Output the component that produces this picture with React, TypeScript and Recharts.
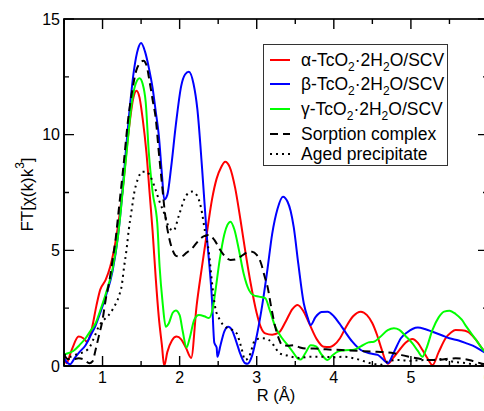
import React from 'react';
import { LineChart, Line, XAxis, YAxis, Legend } from 'recharts';

const xTicks = [0.5, 1, 1.5, 2, 2.5, 3, 3.5, 4, 4.5, 5, 5.5, 6];
const xLabelled = [1, 2, 3, 4, 5, 6];
const yTicks = [0, 2.5, 5, 7.5, 10, 12.5, 15];
const yLabelled = [0, 5, 10, 15];

const alphaPts = [[0.5,0.4],[0.53,0.12],[0.6,0.7],[0.69,1.27],[0.75,1.2],[0.8,1.05],[0.86,1.6],[0.92,2.6],[0.97,3.3],[1.04,3.72],[1.1,4.3],[1.18,5.6],[1.26,7.6],[1.34,10.2],[1.4,11.6],[1.44,11.9],[1.48,11.6],[1.52,10.7],[1.57,9.2],[1.61,7.5],[1.65,5.8],[1.69,3.8],[1.73,2.1],[1.77,0.9],[1.8,0.0],[1.84,0.6],[1.9,1.1],[1.96,1.27],[2.02,1.15],[2.08,0.8],[2.15,0.35],[2.22,2.6],[2.29,4.3],[2.36,5.9],[2.42,7.2],[2.48,8.1],[2.54,8.6],[2.59,8.83],[2.65,8.6],[2.72,7.7],[2.79,6.3],[2.85,5.0],[2.92,3.6],[3.0,2.28],[3.05,1.7],[3.11,1.41],[3.2,1.35],[3.29,1.45],[3.38,1.95],[3.46,2.45],[3.53,2.64],[3.6,2.4],[3.66,2.0],[3.7,1.7],[3.78,1.15],[3.87,0.83],[3.95,0.82],[4.0,0.9],[4.08,1.2],[4.16,1.7],[4.25,2.15],[4.35,2.35],[4.43,2.2],[4.5,1.85],[4.56,1.35],[4.61,0.83],[4.7,0.1],[4.77,0.35],[4.85,0.69],[4.93,1.0],[5.02,1.17],[5.09,1.0],[5.15,0.69],[5.22,0.3],[5.28,0.04],[5.36,0.6],[5.45,1.2],[5.52,1.45],[5.58,1.56],[5.66,1.55],[5.74,1.48],[5.84,1.15],[5.94,0.69],[6.0,0.5]];

const betaPts = [[0.5,0.35],[0.54,0.15],[0.58,0.08],[0.64,0.35],[0.7,0.6],[0.78,0.9],[0.85,1.35],[0.91,1.75],[0.97,2.3],[1.04,3.0],[1.13,4.1],[1.2,5.6],[1.26,7.6],[1.3,9.2],[1.34,10.7],[1.41,12.84],[1.46,13.7],[1.5,13.96],[1.55,13.6],[1.6,12.9],[1.65,12.0],[1.69,11.0],[1.73,9.96],[1.77,8.3],[1.8,7.2],[1.84,7.4],[1.89,8.6],[1.95,10.4],[2.02,12.1],[2.07,12.6],[2.12,12.72],[2.18,12.2],[2.23,11.1],[2.29,8.6],[2.35,5.74],[2.42,2.85],[2.45,1.0],[2.48,0.8],[2.49,0.4],[2.53,0.9],[2.58,1.5],[2.63,1.7],[2.68,1.55],[2.73,1.1],[2.79,0.5],[2.85,0.12],[2.88,0.1],[2.94,0.45],[3.0,1.3],[3.07,2.6],[3.14,4.2],[3.2,5.7],[3.27,6.8],[3.34,7.32],[3.4,7.1],[3.44,6.7],[3.48,6.0],[3.54,4.4],[3.61,2.71],[3.66,2.1],[3.7,1.77],[3.76,2.1],[3.84,2.33],[3.92,2.35],[4.0,2.15],[4.07,1.85],[4.13,1.56],[4.24,1.05],[4.35,0.69],[4.46,0.55],[4.57,0.48],[4.65,0.25],[4.7,0.12],[4.78,0.6],[4.87,1.2],[4.95,1.45],[5.02,1.6],[5.09,1.66],[5.18,1.6],[5.28,1.48],[5.4,1.33],[5.5,1.2],[5.62,1.1],[5.72,0.98],[5.84,0.82],[5.94,0.62],[6.0,0.5]];

const gammaPts = [[0.5,0.5],[0.55,0.55],[0.62,0.65],[0.7,0.9],[0.78,1.2],[0.85,1.55],[0.91,1.85],[0.97,2.4],[1.04,3.1],[1.13,4.2],[1.2,5.6],[1.26,7.5],[1.32,9.5],[1.38,11.4],[1.43,12.2],[1.48,12.44],[1.52,12.2],[1.56,11.4],[1.6,9.24],[1.65,7.5],[1.71,6.17],[1.74,4.3],[1.78,2.71],[1.82,1.7],[1.86,1.85],[1.91,2.3],[1.95,2.4],[2.0,2.2],[2.04,1.5],[2.09,0.8],[2.13,1.2],[2.19,2.0],[2.25,2.2],[2.32,2.15],[2.38,2.07],[2.43,2.5],[2.46,3.14],[2.52,4.6],[2.58,5.7],[2.62,6.1],[2.66,6.24],[2.71,5.9],[2.77,5.0],[2.83,4.0],[2.9,3.28],[2.96,3.05],[3.03,3.0],[3.11,2.93],[3.17,2.4],[3.24,1.7],[3.33,1.2],[3.42,0.83],[3.48,0.55],[3.53,0.33],[3.57,0.28],[3.63,0.55],[3.7,0.9],[3.77,0.85],[3.83,0.55],[3.92,0.26],[3.98,0.45],[4.05,0.62],[4.15,0.68],[4.26,0.7],[4.35,0.85],[4.45,1.02],[4.52,1.05],[4.6,1.25],[4.7,1.55],[4.78,1.63],[4.85,1.56],[4.93,1.3],[5.02,0.98],[5.09,0.65],[5.15,0.4],[5.2,0.75],[5.28,1.56],[5.36,2.1],[5.43,2.35],[5.5,2.39],[5.58,2.25],[5.66,2.0],[5.72,1.7],[5.84,1.15],[5.94,0.69],[6.0,0.5]];

const sorptionPts = [[0.5,0.5],[0.55,0.3],[0.62,0.3],[0.69,0.33],[0.76,0.28],[0.83,0.12],[0.87,0.2],[0.91,0.7],[0.95,1.27],[1.0,2.0],[1.04,2.85],[1.09,3.7],[1.13,4.58],[1.17,5.5],[1.21,6.74],[1.27,8.6],[1.33,10.6],[1.39,12.0],[1.44,12.8],[1.49,13.1],[1.53,13.2],[1.57,13.0],[1.61,12.3],[1.65,11.5],[1.69,10.7],[1.73,9.24],[1.77,7.9],[1.81,6.6],[1.86,5.6],[1.91,5.0],[1.96,4.75],[2.02,4.73],[2.09,4.9],[2.16,5.08],[2.24,5.4],[2.31,5.6],[2.38,5.66],[2.45,5.45],[2.52,5.05],[2.6,4.7],[2.66,4.58],[2.72,4.6],[2.8,4.75],[2.87,4.9],[2.94,4.94],[3.0,4.8],[3.06,4.4],[3.1,3.9],[3.14,3.43],[3.19,2.5],[3.24,1.7],[3.29,1.15],[3.33,0.9],[3.4,0.88],[3.48,0.9],[3.56,0.8],[3.65,0.75],[3.74,0.76],[3.9,0.72],[4.1,0.69],[4.3,0.66],[4.5,0.62],[4.65,0.6],[4.78,0.55],[4.88,0.47],[4.98,0.4],[5.1,0.32],[5.2,0.26],[5.35,0.26],[5.45,0.3],[5.58,0.33],[5.7,0.3],[5.8,0.22],[5.9,0.12],[6.0,0.05]];

const agedPts = [[0.5,0.5],[0.58,0.4],[0.66,0.5],[0.75,0.6],[0.83,0.8],[0.9,1.3],[0.95,1.7],[1.02,2.0],[1.08,2.2],[1.14,2.5],[1.21,3.0],[1.25,3.5],[1.28,4.3],[1.31,5.0],[1.34,5.88],[1.38,6.8],[1.41,7.47],[1.46,8.1],[1.52,8.4],[1.57,8.4],[1.62,8.2],[1.68,7.7],[1.74,7.1],[1.8,6.6],[1.86,6.0],[1.92,5.85],[1.99,6.5],[2.06,7.2],[2.12,7.5],[2.16,7.54],[2.22,7.4],[2.28,6.8],[2.33,5.8],[2.38,4.9],[2.42,3.6],[2.46,2.56],[2.52,2.0],[2.59,1.7],[2.66,1.6],[2.74,1.41],[2.8,0.8],[2.85,0.26],[2.9,0.4],[2.98,1.12],[3.07,1.2],[3.16,1.12],[3.24,0.8],[3.29,0.56],[3.4,0.45],[3.55,0.35],[3.7,0.4],[3.85,0.4],[4.0,0.38],[4.13,0.4],[4.3,0.3],[4.48,0.12],[4.6,0.05],[4.72,0.22],[4.85,0.26],[4.98,0.22],[5.1,0.25],[5.28,0.26],[5.4,0.3],[5.55,0.18],[5.72,0.12],[5.85,0.05],[6.0,0.02]];

const toData = (pts: number[][]) => pts.map(([r, v]) => ({ r, v }));

const seriesList = [
  { key: 'alpha', name: 'α', data: toData(alphaPts), color: '#ff0000', dash: undefined as string | undefined },
  { key: 'beta', name: 'β', data: toData(betaPts), color: '#0000ff', dash: undefined as string | undefined },
  { key: 'gamma', name: 'γ', data: toData(gammaPts), color: '#00ff00', dash: undefined as string | undefined },
  { key: 'sorption', name: 'Sorption complex', data: toData(sorptionPts), color: '#000000', dash: '8 5' },
  { key: 'aged', name: 'Aged precipitate', data: toData(agedPts), color: '#000000', dash: '2 4' },
];

// layout
const X_DOMAIN = [0.5, 6];
const Y_DOMAIN = [0, 15];
const CHART_W = 500;
const CHART_H = 411;
const M_TOP = 19;
const M_RIGHT = 12;
const Y_AXIS_W = 64;
const X_AXIS_H = 45;
const PLOT_W = CHART_W - M_RIGHT - Y_AXIS_W;
const PLOT_H = CHART_H - M_TOP - X_AXIS_H;
const MAJOR_LEN = 10;
const MINOR_LEN = 5;
const PLOT_LEFT = Y_AXIS_W;
const PLOT_TOP = M_TOP;
const PLOT_BOTTOM = M_TOP + PLOT_H;
const PLOT_RIGHT = PLOT_LEFT + PLOT_W;

const sx = (r: number) => PLOT_LEFT + ((r - X_DOMAIN[0]) / (X_DOMAIN[1] - X_DOMAIN[0])) * PLOT_W;
const sy = (v: number) => PLOT_BOTTOM - ((v - Y_DOMAIN[0]) / (Y_DOMAIN[1] - Y_DOMAIN[0])) * PLOT_H;

const FONT = '"Liberation Sans", Arial, Helvetica, sans-serif';
const TICK_W = 1.4;
const FRAME_W = 1.7;

const XTick = (p: any) => {
  const v = Number(p.payload?.value);
  if (!xLabelled.includes(v)) return <g />;
  return (
    <text x={Number(p.x)} y={Number(p.y)} dy="0.71em" textAnchor="middle" fontSize={16} fontFamily={FONT} fill="#000">
      {v}
    </text>
  );
};

const YTick = (p: any) => {
  const v = Number(p.payload?.value);
  if (!yLabelled.includes(v)) return <g />;
  return (
    <text x={Number(p.x)} y={Number(p.y)} dy="0.355em" textAnchor="end" fontSize={16} fontFamily={FONT} fill="#000">
      {v}
    </text>
  );
};

// Frame and inward tick marks (overlay, positions from tick arrays and the same domains)
const FrameTicks = () => {
  const d: string[] = [];
  xTicks.forEach((t) => {
    const len = xLabelled.includes(t) ? MAJOR_LEN : MINOR_LEN;
    const x = sx(t);
    d.push(`M${x},${PLOT_BOTTOM}V${PLOT_BOTTOM - len}`);
    d.push(`M${x},${PLOT_TOP}V${PLOT_TOP + len}`);
  });
  yTicks.forEach((t) => {
    const len = yLabelled.includes(t) ? MAJOR_LEN : MINOR_LEN;
    const y = sy(t);
    d.push(`M${PLOT_LEFT},${y}H${PLOT_LEFT + len}`);
    d.push(`M${PLOT_RIGHT},${y}H${PLOT_RIGHT - len}`);
  });
  return (
    <svg width={484} height={411} style={{ position: 'absolute', left: 0, top: 0, pointerEvents: 'none' }}>
      <path d={d.join('')} stroke="#000" strokeWidth={TICK_W} fill="none" />
      <rect x={PLOT_LEFT} y={PLOT_TOP} width={PLOT_W} height={PLOT_H} stroke="#000" strokeWidth={FRAME_W} fill="none" />
    </svg>
  );
};

const subStyle: React.CSSProperties = { fontSize: 12, verticalAlign: -5, lineHeight: 0 };

const tcLabel = (greek: string) => (
  <span>
    {greek}-TcO<sub style={subStyle}>2</sub>·2H<sub style={subStyle}>2</sub>O/SCV
  </span>
);

const legendTops = [3, 27, 52, 77, 97];

const LegendBox = () => (
  <div
    style={{
      width: 183,
      height: 120,
      border: '1.5px solid #333',
      background: '#fff',
      position: 'relative',
      fontFamily: FONT,
      fontSize: 17.5,
      color: '#000',
    }}
  >
    {seriesList.map((s, i) => (
      <div
        key={s.key}
        style={{ position: 'absolute', left: 0, top: legendTops[i], height: 24, width: 183, display: 'flex', alignItems: 'center', whiteSpace: 'nowrap' }}
      >
        <svg width={37} height={24} style={{ flex: 'none' }}>
          <line x1={6} y1={12} x2={26} y2={12} stroke={s.color} strokeWidth={2} strokeDasharray={s.dash} />
        </svg>
        {i < 3 ? tcLabel(s.name) : <span>{s.name}</span>}
      </div>
    ))}
  </div>
);

const YLabel = () => (
  <text transform={`translate(27,${PLOT_TOP + PLOT_H / 2 + 2}) rotate(-90)`} textAnchor="middle" dominantBaseline="central" fontSize={17} fontFamily={FONT} fill="#000">
    FT[χ(k)k<tspan dy={-7} fontSize={12}>3</tspan>
    <tspan dy={7}>]</tspan>
  </text>
);

const frame = { stroke: '#000', strokeWidth: FRAME_W };

export default function App() {
  return (
    <div style={{ position: 'absolute', left: 0, top: 0, width: 484, height: 411, overflow: 'hidden', background: '#fff' }}>
      <LineChart width={CHART_W} height={CHART_H} margin={{ top: M_TOP, right: M_RIGHT, bottom: 0, left: 0 }}>
        <XAxis
          xAxisId="x"
          dataKey="r"
          type="number"
          domain={X_DOMAIN}
          allowDataOverflow
          ticks={xTicks}
          interval={0}
          tickSize={0}
          tickMargin={6}
          tickLine={false}
          axisLine={frame}
          tick={(p: any) => <XTick {...p} />}
          height={X_AXIS_H}
          label={{ value: 'R (Å)', position: 'insideBottom', offset: 10, fontSize: 16.5, fontFamily: FONT, fill: '#000' }}
        />
        <YAxis
          yAxisId="y"
          type="number"
          domain={Y_DOMAIN}
          allowDataOverflow
          ticks={yTicks}
          interval={0}
          tickSize={0}
          tickMargin={4}
          tickLine={false}
          axisLine={frame}
          tick={(p: any) => <YTick {...p} />}
          width={Y_AXIS_W}
          label={<YLabel />}
        />
        {seriesList.map((s) => (
          <Line
            key={s.key}
            xAxisId="x"
            yAxisId="y"
            data={s.data}
            dataKey="v"
            name={s.name}
            type="monotone"
            stroke={s.color}
            strokeWidth={2}
            strokeDasharray={s.dash}
            dot={false}
            activeDot={false}
            isAnimationActive={false}
          />
        ))}
        <Legend
          layout="vertical"
          align="center"
          verticalAlign="middle"
          content={() => <LegendBox />}
          wrapperStyle={{ left: 263, top: 44, width: 186, height: 123 }}
        />
      </LineChart>
      <FrameTicks />
    </div>
  );
}
